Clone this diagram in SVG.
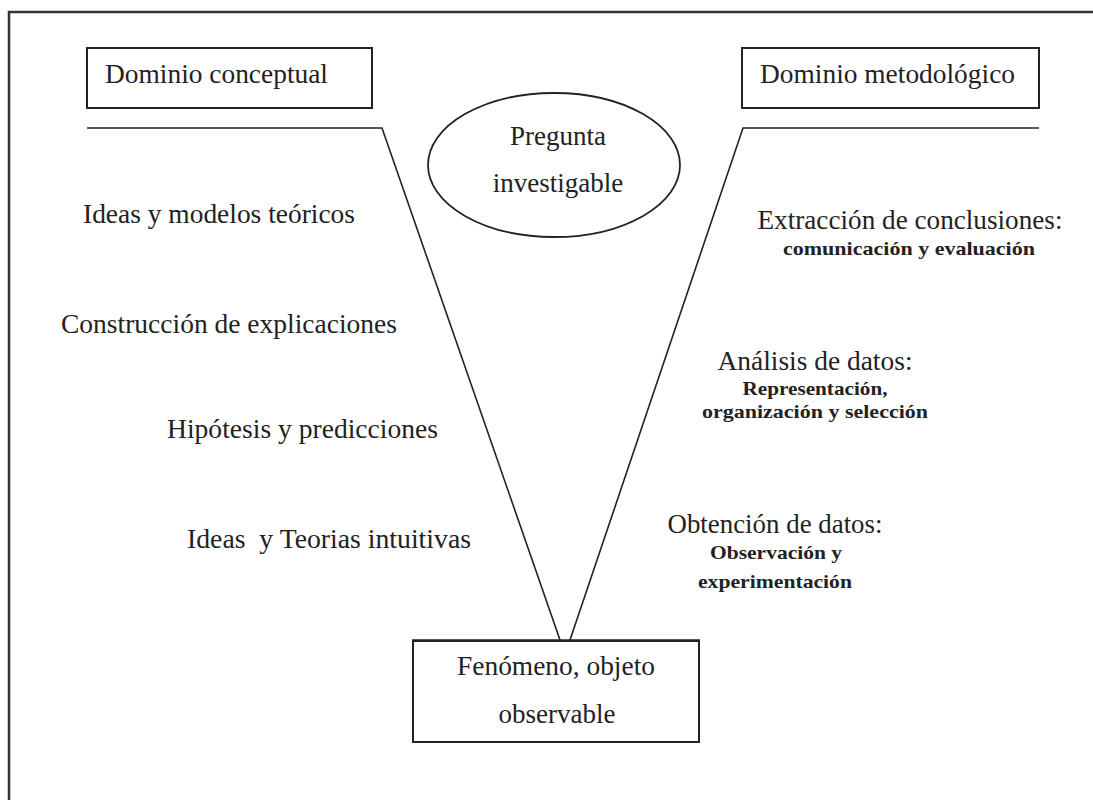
<svg xmlns="http://www.w3.org/2000/svg" width="1093" height="800" viewBox="0 0 1093 800">
<style>
.t{font-family:"Liberation Serif","Times New Roman",serif;font-size:27px;fill:#222}
.s{font-family:"Liberation Serif","Times New Roman",serif;font-size:19px;font-weight:bold;fill:#222}
.box{fill:#fff;stroke:#222;stroke-width:2}
.ln{stroke:#222;stroke-width:1.6;fill:none}
</style>
<rect width="1093" height="800" fill="#fff"/>
<g id="frame">
<path d="M9,800 V12 H1093" fill="none" stroke="#333" stroke-width="2.5"/>
</g>
<g id="connectors">
<path class="ln" d="M87,128 H382 L560,640"/>
<path class="ln" d="M1039,128 H743 L570,640"/>
<path class="ln" d="M412,640 H700" stroke-width="2.2"/>
</g>
<g id="dominio-conceptual">
<rect class="box" x="87" y="48" width="285" height="60"/>
<text class="t" x="105" y="83" textLength="223" lengthAdjust="spacingAndGlyphs">Dominio conceptual</text>
</g>
<g id="dominio-metodologico">
<rect class="box" x="742" y="48" width="297" height="60"/>
<text class="t" x="760" y="83" textLength="255" lengthAdjust="spacingAndGlyphs">Dominio metodológico</text>
</g>
<g id="pregunta">
<ellipse cx="554" cy="165" rx="126" ry="72" fill="#fff" stroke="#222" stroke-width="1.8"/>
<text class="t" x="558" y="145" text-anchor="middle">Pregunta</text>
<text class="t" x="558" y="192" text-anchor="middle">investigable</text>
</g>
<g id="fenomeno">
<rect class="box" x="413" y="641" width="286" height="101"/>
<text class="t" x="556" y="675" text-anchor="middle" textLength="198" lengthAdjust="spacingAndGlyphs">Fenómeno, objeto</text>
<text class="t" x="557" y="723" text-anchor="middle">observable</text>
</g>
<g id="conceptual-items">
<text class="t" x="83" y="223" textLength="272" lengthAdjust="spacingAndGlyphs">Ideas y modelos teóricos</text>
<text class="t" x="61" y="333" textLength="336" lengthAdjust="spacingAndGlyphs">Construcción de explicaciones</text>
<text class="t" x="167" y="438" textLength="271" lengthAdjust="spacingAndGlyphs">Hipótesis y predicciones</text>
<text class="t" x="187" y="548" xml:space="preserve" textLength="284" lengthAdjust="spacingAndGlyphs">Ideas  y Teorias intuitivas</text>
</g>
<g id="metodologico-items">
<text class="t" x="910" y="229" text-anchor="middle" textLength="305" lengthAdjust="spacingAndGlyphs">Extracción de conclusiones:</text>
<text class="s" x="909" y="255" text-anchor="middle" textLength="252" lengthAdjust="spacingAndGlyphs">comunicación y evaluación</text>
<text class="t" x="815" y="370" text-anchor="middle" textLength="195" lengthAdjust="spacingAndGlyphs">Análisis de datos:</text>
<text class="s" x="815" y="395" text-anchor="middle" textLength="145" lengthAdjust="spacingAndGlyphs">Representación,</text>
<text class="s" x="815" y="418" text-anchor="middle" textLength="226" lengthAdjust="spacingAndGlyphs">organización y selección</text>
<text class="t" x="775" y="533" text-anchor="middle" textLength="215" lengthAdjust="spacingAndGlyphs">Obtención de datos:</text>
<text class="s" x="776" y="559" text-anchor="middle" textLength="132" lengthAdjust="spacingAndGlyphs">Observación y</text>
<text class="s" x="775" y="588" text-anchor="middle" textLength="154" lengthAdjust="spacingAndGlyphs">experimentación</text>
</g>
</svg>
